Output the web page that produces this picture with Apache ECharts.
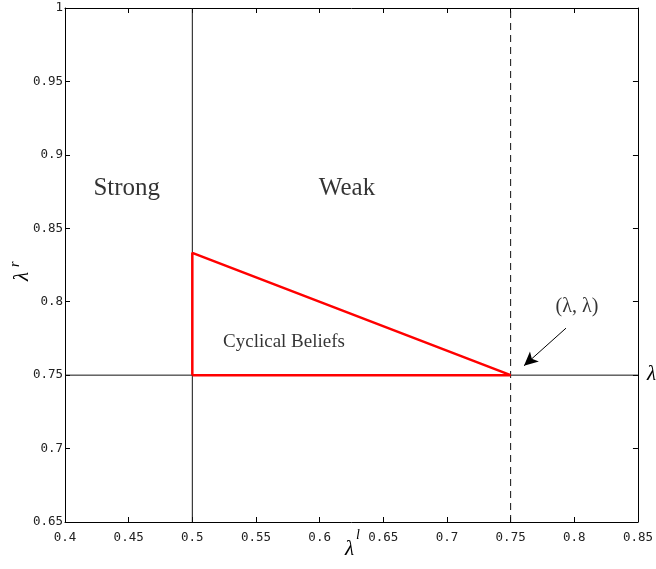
<!DOCTYPE html>
<html><head><meta charset="utf-8">
<script src="https://cdn.jsdelivr.net/npm/echarts@6/dist/echarts.min.js"></script>
<style>html,body{margin:0;padding:0;background:#fff}#c{width:656px;height:569px}</style>
</head><body><div id="c"></div>
<script>
const xTicks = [0.4,0.45,0.5,0.55,0.6,0.65,0.7,0.75,0.8,0.85];
const yTicks = [0.65,0.7,0.75,0.8,0.85,0.9,0.95,1];
const triangle = [[0.5,0.75],[0.5,0.8333],[0.75,0.75],[0.5,0.75]];
const strongLine = [[0.5,0.65],[0.5,1]];
const horizLine = [[0.4,0.75],[0.85,0.75]];
const dashedLine = [[0.75,0.65],[0.75,1]];
const arrowFrom = [0.7935,0.782];
const arrowTo = [0.7605,0.7564];
const labels = [
  {name:'Strong', pos:[0.4485,0.877], size:25},
  {name:'Weak', pos:[0.6215,0.877], size:25},
  {name:'Cyclical Beliefs', pos:[0.572,0.7727], size:19},
  {name:'(λ, λ)', pos:[0.8021,0.7968], size:20}
];
const chart = echarts.init(document.getElementById('c'));
const serif = 'Liberation Serif';
const mono = 'DejaVu Sans Mono';
const axisCommon = {
  type:'value', splitLine:{show:false},
  axisLine:{show:true,lineStyle:{color:'#000',width:1}},
  axisTick:{show:true,inside:true,length:5,lineStyle:{color:'#000'}},
};
chart.setOption({
  animation:false,
  grid:{left:65,right:18,top:8,bottom:47},
  xAxis:[
    Object.assign({},axisCommon,{min:0.4,max:0.85,interval:0.05,position:'bottom',
      axisLabel:{fontFamily:mono,fontSize:12.5,color:'#222',margin:9,showMinLabel:true,showMaxLabel:true,formatter:v=>String(+v.toFixed(2))}}),
    Object.assign({},axisCommon,{min:0.4,max:0.85,interval:0.05,position:'top',axisLabel:{show:false}})
  ],
  yAxis:[
    Object.assign({},axisCommon,{min:0.65,max:1,interval:0.05,position:'left',
      axisLabel:{fontFamily:mono,fontSize:12.5,color:'#222',margin:2,showMinLabel:true,showMaxLabel:true,formatter:v=>String(+v.toFixed(2))}}),
    Object.assign({},axisCommon,{min:0.65,max:1,interval:0.05,position:'right',axisLabel:{show:false}})
  ],
  series:[
    {type:'line',data:strongLine,symbol:'none',lineStyle:{color:'#111',width:1},z:2},
    {type:'line',data:horizLine,symbol:'none',lineStyle:{color:'#111',width:1},z:2},
    {type:'line',data:dashedLine,symbol:'none',lineStyle:{color:'#111',width:1,type:[7,5]},z:2},
    {type:'line',data:triangle,symbol:'none',lineStyle:{color:'#ff0000',width:2.5},z:3,
      markLine:{silent:true,symbol:['none','arrow'],symbolSize:[10,14],
        lineStyle:{color:'#000',width:1,type:'solid'},label:{show:false},
        data:[[{coord:arrowFrom},{coord:arrowTo}]]}},
    {type:'scatter',symbolSize:0,z:4,
      data:labels.map(l=>({value:l.pos,label:{show:true,position:'inside',formatter:l.name,fontFamily:serif,fontSize:l.size,color:'#000'}}))}
  ],
  graphic:[
    {type:'text',left:647,top:364,style:{text:'λ',font:'italic 21px "Liberation Serif"',fill:'#000'}},
    {type:'text',left:345,top:539,style:{text:'λ',font:'italic 21px "Liberation Serif"',fill:'#000'}},
    {type:'text',left:356,top:528,style:{text:'l',font:'italic 14px "Liberation Serif"',fill:'#000'}},
    {type:'text',x:12,y:281,rotation:Math.PI/2,style:{text:'λ',font:'italic 21px "Liberation Serif"',fill:'#000'}},
    {type:'text',x:8,y:267,rotation:Math.PI/2,style:{text:'r',font:'italic 14px "Liberation Serif"',fill:'#000'}}
  ]
});
</script></body></html>
